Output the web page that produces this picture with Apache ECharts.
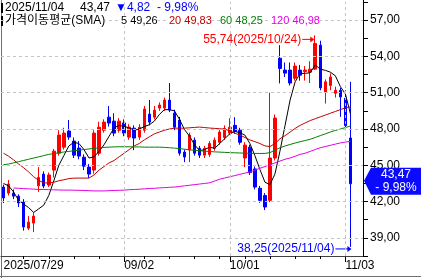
<!DOCTYPE html>
<html><head><meta charset="utf-8">
<script src="https://cdn.jsdelivr.net/npm/echarts@6/dist/echarts.min.js"></script>
<style>html,body{margin:0;padding:0;background:#fff}#c{width:421px;height:278px}</style>
</head><body><div id="c"></div>
<script>
const dates = ['2025/07/29','2025/07/30','2025/07/31','2025/08/01','2025/08/04','2025/08/05','2025/08/06','2025/08/07','2025/08/08',
'2025/08/11','2025/08/12','2025/08/13','2025/08/14','2025/08/15','2025/08/18','2025/08/19','2025/08/20','2025/08/21','2025/08/22',
'2025/08/25','2025/08/26','2025/08/27','2025/08/28','2025/08/29','2025/09/02','2025/09/03','2025/09/04','2025/09/05',
'2025/09/08','2025/09/09','2025/09/10','2025/09/11','2025/09/12','2025/09/15','2025/09/16','2025/09/17','2025/09/18','2025/09/19',
'2025/09/22','2025/09/23','2025/09/24','2025/09/25','2025/09/26','2025/09/29','2025/09/30','2025/10/01','2025/10/02','2025/10/03',
'2025/10/06','2025/10/07','2025/10/08','2025/10/09','2025/10/10','2025/10/13','2025/10/14','2025/10/15','2025/10/16','2025/10/17',
'2025/10/20','2025/10/21','2025/10/22','2025/10/23','2025/10/24','2025/10/27','2025/10/28','2025/10/29','2025/10/30','2025/10/31',
'2025/11/03','2025/11/04'];
const opens = [43.20,42.70,42.70,42.45,41.96,39.80,40.22,43.30,44.27,43.36,44.60,46.00,46.50,47.83,47.00,46.42,45.67,44.85,44.60,46.00,
47.90,48.98,48.65,47.90,48.50,47.33,48.07,47.33,47.90,49.23,48.98,49.73,49.73,50.39,49.31,48.74,46.09,46.26,47.08,46.40,
45.84,45.90,46.40,46.90,47.30,47.65,48.30,47.90,45.60,46.50,44.70,43.10,42.50,42.10,45.60,53.85,52.87,52.87,52.20,52.87,
52.75,52.70,52.95,54.93,51.05,51.60,50.96,51.20,50.55,47.25];
const closes = [42.30,43.45,42.45,41.88,39.90,40.30,40.80,44.00,43.28,44.20,46.17,47.50,47.66,47.33,45.84,45.76,44.93,44.27,47.66,48.15,
48.57,48.49,47.66,48.65,47.66,48.15,47.25,48.15,49.65,48.57,49.56,49.98,50.39,49.56,48.15,46.00,45.68,47.50,46.00,45.84,
46.40,46.80,47.08,47.75,48.05,48.15,47.80,46.90,46.67,44.40,43.20,42.10,41.55,45.60,48.90,53.00,52.62,51.80,53.20,52.45,
52.87,52.95,55.07,51.40,51.90,52.30,51.20,50.65,48.29,43.47];
const highs = [43.40,43.78,43.00,42.60,42.20,40.80,41.10,44.85,44.50,44.40,46.35,47.90,48.10,48.74,47.30,47.00,45.90,45.10,47.90,48.60,
48.80,49.90,49.30,48.90,48.80,48.40,48.30,48.40,49.90,50.40,49.90,50.20,50.60,51.80,49.60,49.00,46.30,47.70,47.30,46.60,
46.60,47.00,47.30,48.00,48.30,48.90,48.98,48.10,46.90,46.70,44.90,43.30,42.70,51.00,49.20,54.93,53.50,53.50,53.50,53.30,
53.20,53.60,55.74,55.30,52.10,52.60,51.50,51.40,51.20,51.90];
const lows = [41.88,42.50,42.20,41.55,39.60,39.64,39.48,42.80,43.10,43.20,44.00,45.80,46.30,47.10,45.60,45.50,44.60,43.95,44.30,45.80,
47.70,48.20,47.40,47.70,47.40,47.10,46.25,47.10,47.70,48.30,48.80,49.50,49.50,49.40,47.90,45.80,45.26,45.26,45.80,45.60,
45.60,45.70,46.20,46.70,47.10,47.50,47.60,46.70,44.85,44.20,43.00,41.90,41.30,41.95,45.40,51.77,52.30,51.60,52.00,52.00,
52.00,51.80,52.90,51.20,50.10,51.20,50.60,49.00,47.90,38.25];
const ma5 = [43.50,43.30,42.80,42.10,41.80,41.50,41.10,41.40,41.70,42.50,43.70,45.00,45.80,46.60,46.90,46.80,46.30,45.60,45.70,46.15,
46.70,47.40,48.10,48.30,48.20,48.10,47.90,48.00,48.20,48.35,48.65,49.20,49.60,49.60,49.50,48.80,47.95,47.40,46.70,46.20,
46.30,46.50,46.40,46.80,47.20,47.60,47.80,47.70,47.50,46.80,45.80,44.65,43.60,43.40,44.30,46.20,48.30,50.40,51.90,52.60,
52.60,52.65,53.30,52.95,52.85,52.70,52.40,51.50,50.90,49.26];
const ma20 = [46.00,45.75,45.45,45.10,44.80,44.45,44.05,43.75,43.55,43.53,43.60,43.72,43.80,43.90,43.94,43.94,43.94,43.94,44.20,44.60,
44.90,45.20,45.40,45.70,46.00,46.30,46.60,46.80,47.10,47.35,47.60,47.75,47.90,48.00,48.07,48.07,48.07,48.10,48.13,48.16,
48.12,48.08,48.05,48.02,47.99,47.85,47.66,47.50,47.30,47.10,46.95,46.80,46.60,46.55,46.80,47.20,47.45,47.75,48.05,48.30,
48.50,48.70,48.85,49.00,49.15,49.30,49.45,49.60,49.75,49.83];
const ma60 = [45.05,45.10,45.20,45.30,45.40,45.50,45.60,45.70,45.80,45.90,45.97,46.03,46.10,46.15,46.20,46.25,46.30,46.35,46.40,46.45,
46.48,46.50,46.52,46.53,46.53,46.53,46.52,46.52,46.50,46.50,46.50,46.50,46.48,46.45,46.42,46.38,46.33,46.28,46.24,46.20,
46.17,46.14,46.11,46.09,46.07,46.05,46.03,46.02,46.00,45.99,45.98,45.98,45.98,46.05,46.25,46.45,46.60,46.72,46.84,46.95,
47.05,47.15,47.30,47.45,47.60,47.75,47.88,48.00,48.12,48.25];
const ma120 = [null,null,43.12,43.10,43.07,43.05,43.03,43.00,43.00,42.98,42.97,42.96,42.95,42.95,42.94,42.93,42.92,42.90,42.88,42.88,
42.88,42.90,42.92,42.93,42.95,42.98,43.00,43.02,43.05,43.08,43.10,43.13,43.15,43.18,43.20,43.25,43.30,43.35,43.40,43.45,
43.50,43.55,43.70,43.85,43.95,44.05,44.15,44.25,44.35,44.45,44.60,44.75,44.90,45.05,45.20,45.35,45.50,45.60,45.75,45.90,
46.00,46.15,46.30,46.45,46.55,46.65,46.75,46.85,46.92,46.98];
const yTickLabels = [39,42,45,48,51,54,57];
const monthLabels = {'2025/07/29':'2025/07/29','2025/09/02':'09/02','2025/10/01':'10/01','2025/11/03':'11/03'};
const highMark = {date:'2025/10/24', value:55.74};
const lowMark = {date:'2025/11/04', value:38.25};
const lastInfo = {date:'2025/11/04', close:43.47, change:4.82, pct:-9.98};
const maNames = ['5','20','60','120'];

const UP='#ff0000', DOWN='#0000ff';
const MA_COLORS=['#000000','#c00000','#008000','#e000e0'];
const FONT="'Liberation Sans','Noto Sans CJK KR',sans-serif";
const fmt = v => v.toFixed(2).replace('.', ',');
const cats = dates.concat([' ','  ']);
const isMonday = d => new Date(d.replace(/\//g,'-')+'T00:00:00Z').getUTCDay()===1;

const chart = echarts.init(document.getElementById('c'), null, {renderer:'canvas'});
const candle = dates.map((d,i)=>[opens[i],closes[i],lows[i],highs[i]]);
const maSeries = [ma5,ma20,ma60,ma120].map((arr,i)=>({
  type:'line', data:arr, symbol:'none', z:3, silent:true,
  lineStyle:{width:1,color:MA_COLORS[i]}, connectNulls:false
}));
chart.setOption({
  animation:false,
  grid:{left:1,right:58,top:2,bottom:22,containLabel:false},
  xAxis:{type:'category',data:cats,boundaryGap:true,
    axisLine:{show:true,lineStyle:{color:'#404040',width:1}},
    axisTick:{show:true,alignWithLabel:true,length:3,lineStyle:{color:'#000'},
      interval:(i,v)=> i<dates.length && isMonday(dates[i]) && !monthLabels[dates[i]]},
    axisLabel:{interval:(i,v)=> monthLabels[v]!==undefined, formatter:v=>monthLabels[v]||'',
      align:'left',color:'#000',fontSize:12,fontFamily:FONT,margin:4},
    splitLine:{show:false}},
  yAxis:{type:'value',position:'right',min:37.5,max:58.5,interval:1.5,scale:true,
    axisLine:{show:true,lineStyle:{color:'#000'}},
    axisTick:{show:true,length:5,lineStyle:{color:'#000'}},
    axisLabel:{margin:7,color:'#000',fontSize:12,fontFamily:FONT,
      formatter:v=> yTickLabels.some(t=>Math.abs(t-v)<1e-6) ? fmt(v) : ''},
    splitLine:{show:false}},
  series:[
    {type:'line',data:dates.map(()=>'-'),z:0,silent:true,symbol:'none',
      markLine:{silent:true,symbol:['none','none'],label:{show:false},animation:false,
        lineStyle:{type:[3,3],color:'#c4c4c4',width:1},
        data: yTickLabels.map(v=>({yAxis:v})).concat(
          Object.keys(monthLabels).filter(d=>d!==dates[0]).map(d=>({xAxis:d})))}},
    {type:'candlestick',data:candle,barWidth:3,z:2,silent:true,
      itemStyle:{color:UP,color0:DOWN,borderColor:UP,borderColor0:DOWN,borderWidth:1}},
    ...maSeries
  ]
});

function px(date, v){ return chart.convertToPixel({xAxisIndex:0,yAxisIndex:0},[date,v]); }
const g = [];
g.push({type:'line',shape:{x1:1.5,y1:0,x2:1.5,y2:278},style:{stroke:'#707070',lineWidth:1},silent:true});
g.push({type:'line',shape:{x1:0,y1:276.5,x2:421,y2:276.5},style:{stroke:'#707070',lineWidth:1},silent:true});
g.push({type:'line',shape:{x1:363.5,y1:0,x2:363.5,y2:256},style:{stroke:'#000',lineWidth:1},silent:true});
Object.keys(monthLabels).forEach(d=>{ if(d===dates[0]) return; const p=px(d,40);
  g.push({type:'line',shape:{x1:Math.round(p[0])+0.5,y1:256,x2:Math.round(p[0])+0.5,y2:262},style:{stroke:'#000',lineWidth:1},silent:true}); });
g.push({type:'rect',shape:{x:1,y:3,width:2,height:10},style:{fill:'#000'},silent:true});
g.push({type:'rect',shape:{x:1,y:16,width:2,height:10},style:{fill:'#000'},silent:true});
function txt(x,y,s,color,align,extra,size){ return {type:'text',x:x,y:y,silent:true,z:50,
  style:Object.assign({text:s,fill:color,font:(size||12)+'px '+FONT,align:align||'left',verticalAlign:'middle'},extra||{})}; }
const n = dates.length-1;
g.push(txt(5,8,lastInfo.date,'#000'));
g.push(txt(80,8,fmt(lastInfo.close),'#000'));
g.push(txt(115,8,'\u25BC'+fmt(lastInfo.change),DOWN));
g.push(txt(157,8,'- '+fmt(Math.abs(lastInfo.pct))+'%',DOWN));
const wbg={backgroundColor:'#fff'};
g.push(txt(5,21,'가격이동평균(SMA)','#000','left',wbg,12));
g.push(txt(121,21,maNames[0]+' '+fmt(ma5[n]),'#000','left',wbg,11));
g.push(txt(169,21,maNames[1]+' '+fmt(ma20[n]),MA_COLORS[1],'left',wbg,11));
g.push(txt(220,21,maNames[2]+' '+fmt(ma60[n]),MA_COLORS[2],'left',wbg,11));
g.push(txt(271,21,maNames[3]+' '+fmt(ma120[n]),MA_COLORS[3],'left',wbg,11));
const ph = px(highMark.date, highMark.value); const hy = ph[1]+4;
g.push(txt(ph[0]-14,hy,fmt(highMark.value)+'('+highMark.date+')',UP,'right'));
g.push({type:'line',shape:{x1:ph[0]-13,y1:hy,x2:ph[0]-2,y2:hy},style:{stroke:UP,lineWidth:1},silent:true});
g.push({type:'polygon',shape:{points:[[ph[0]-1,hy],[ph[0]-5,hy-3],[ph[0]-5,hy+3]]},style:{fill:UP},silent:true});
const pl = px(lowMark.date, lowMark.value); const ly = pl[1]+2;
g.push(txt(pl[0]-16,ly,fmt(lowMark.value)+'('+lowMark.date+')',DOWN,'right'));
g.push({type:'line',shape:{x1:pl[0]-15,y1:ly,x2:pl[0]-2,y2:ly},style:{stroke:DOWN,lineWidth:1},silent:true});
g.push({type:'polygon',shape:{points:[[pl[0]+1,ly],[pl[0]-3,ly-3],[pl[0]-3,ly+3]]},style:{fill:DOWN},silent:true});
const pc = px(lastInfo.date, lastInfo.close); const by = pc[1]-3;
g.push({type:'polygon',shape:{points:[[364,by],[371,by-13],[421,by-13],[421,by+14],[371,by+14]]},style:{fill:'#0a0aff'},silent:true,z:40});
g.push(txt(396,by-6,fmt(lastInfo.close),'#fff','center'));
g.push(txt(396,by+7,'- '+fmt(Math.abs(lastInfo.pct))+'%','#fff','center'));
chart.setOption({graphic:g});
</script></body></html>
